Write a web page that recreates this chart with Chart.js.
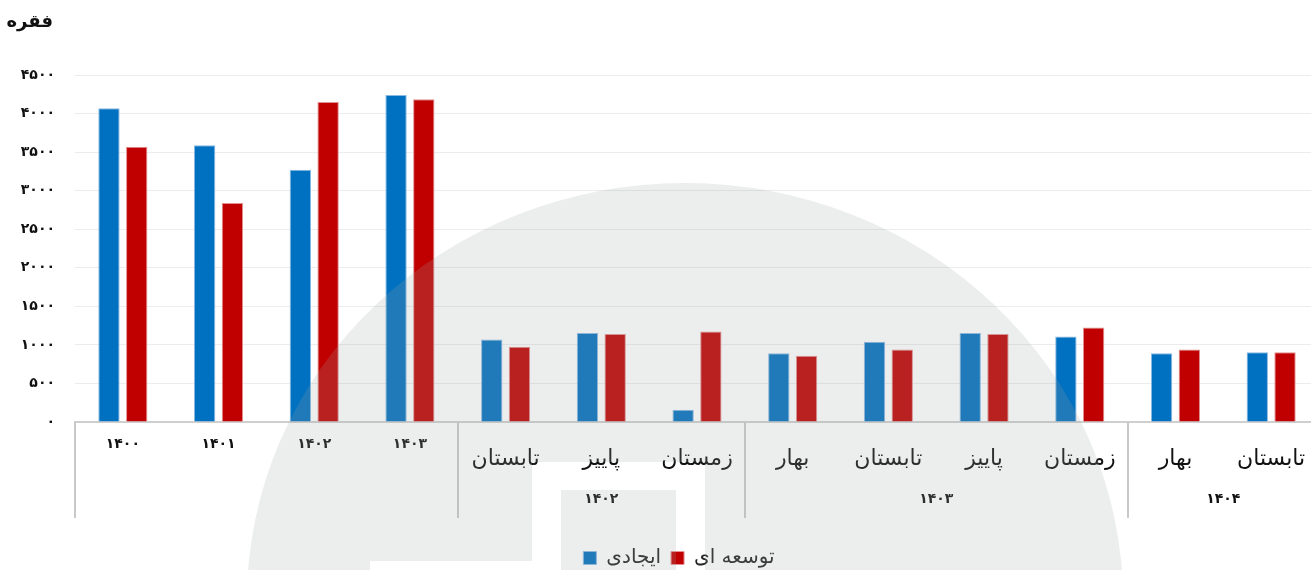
<!DOCTYPE html>
<html>
<head>
<meta charset="utf-8">
<script src="https://cdn.jsdelivr.net/npm/chart.js@4.4.1/dist/chart.umd.min.js"></script>
<style>
  html, body { margin: 0; padding: 0; background: #ffffff; overflow: hidden; }
  #wrap { position: relative; width: 1320px; height: 580px; }
</style>
</head>
<body>
<div id="wrap"><canvas id="chart"></canvas></div>
<script>
// Category labels (first row of the x axis)
const categories = ['۱۴۰۰', '۱۴۰۱', '۱۴۰۲', '۱۴۰۳', 'تابستان', 'پاییز', 'زمستان', 'بهار', 'تابستان', 'پاییز', 'زمستان', 'بهار', 'تابستان'];
// Second row of the x axis: year groups and how many categories each spans
const groupLabels = ['', '۱۴۰۲', '۱۴۰۳', '۱۴۰۴'];
const groupSizes = [4, 3, 4, 2];
// Number of cases per period
const creationValues  = [4070, 3590, 3270, 4240, 1070, 1155, 160, 890, 1040, 1155, 1110, 890, 905];
const expansionValues = [3570, 2840, 4150, 4185, 975, 1140, 1175, 860, 940, 1140, 1225, 940, 905];
const seriesNames = ['ایجادی', 'توسعه ای'];
const yTicks = [0, 500, 1000, 1500, 2000, 2500, 3000, 3500, 4000, 4500];
const yTitle = 'فقره';

const FONT = '"DejaVu Sans", sans-serif';
const faDigits = '۰۱۲۳۴۵۶۷۸۹';
const toFa = n => String(n).replace(/\d/g, d => faDigits[d]);

// Draws the y title, the grouped second row of the x axis and its dividers
const axisDecor = {
  id: 'axisDecor',
  afterLayout(chart) {
    // centre the legend a little to the right, under the plot
    if (chart.legend) {
      chart.legend.left += 39;
    }
  },
  afterDraw(chart) {
    const ctx = chart.ctx;
    const x = chart.scales.x;
    const y = chart.scales.y;
    ctx.save();
    // y axis title
    ctx.fillStyle = '#111';
    ctx.font = 'bold 18px ' + FONT;
    ctx.textAlign = 'right';
    ctx.textBaseline = 'middle';
    ctx.fillText(yTitle, y.right - 22, 22);

    // group dividers
    const top = x.top;
    const bottom = x.top + 96;
    const edgeAt = i => {
      if (i <= 0) return x.left;
      if (i >= categories.length) return x.right;
      return (x.getPixelForValue(i - 1) + x.getPixelForValue(i)) / 2;
    };
    ctx.strokeStyle = '#c9c9c9';
    ctx.lineWidth = 2;
    let start = 0;
    const edges = [0];
    groupSizes.forEach(s => { start += s; edges.push(start); });
    edges.forEach(i => {
      const px = Math.round(edgeAt(i));
      ctx.beginPath();
      ctx.moveTo(px, top);
      ctx.lineTo(px, bottom);
      ctx.stroke();
    });
    // group labels
    ctx.font = 'bold 14px ' + FONT;
    ctx.textAlign = 'center';
    ctx.fillStyle = '#111';
    for (let g = 0; g < groupLabels.length; g++) {
      if (!groupLabels[g]) continue;
      const cx = (edgeAt(edges[g]) + edgeAt(edges[g + 1])) / 2;
      ctx.fillText(groupLabels[g], cx, top + 77);
    }
    ctx.restore();
  }
};

// Translucent background emblem laid over the plot
const emblem = {
  id: 'emblem',
  afterDraw(chart) {
    const ctx = chart.ctx;
    ctx.save();
    ctx.beginPath();
    ctx.ellipse(685, 600, 438, 417, 0, 0, Math.PI * 2);
    ctx.rect(532, 462, 173, 140);
    ctx.rect(561, 490, 115, 112);
    ctx.rect(370, 561, 162, 41);
    ctx.fillStyle = 'rgba(160,165,165,0.2)';
    ctx.fill('evenodd');
    ctx.restore();
  }
};

new Chart(document.getElementById('chart'), {
  type: 'bar',
  data: {
    labels: categories,
    datasets: [
      {
        label: seriesNames[0],
        data: creationValues,
        backgroundColor: '#0070C0',
        borderColor: '#8ab9e2',
        borderWidth: 1,
        barPercentage: 0.77,
        categoryPercentage: 0.58
      },
      {
        label: seriesNames[1],
        data: expansionValues,
        backgroundColor: '#C00000',
        borderColor: '#e39090',
        borderWidth: 1,
        barPercentage: 0.77,
        categoryPercentage: 0.58
      }
    ]
  },
  options: {
    responsive: true,
    maintainAspectRatio: false,
    animation: false,
    layout: { padding: { top: 75, left: 0, right: 1, bottom: 2 } },
    plugins: {
      legend: {
        position: 'bottom',
        labels: {
          boxWidth: 13,
          boxHeight: 13,
          padding: 10,
          color: '#222',
          font: { family: FONT, size: 20 }
        }
      },
      tooltip: { enabled: false }
    },
    scales: {
      x: {
        grid: { display: false, drawTicks: false },
        border: { display: true, color: '#cfcfcf', width: 2 },
        ticks: {
          autoSkip: false,
          maxRotation: 0,
          padding: 14,
          color: '#111',
          font: ctx => ctx.index < 4
            ? { family: FONT, size: 14, weight: 'bold', lineHeight: 1.2 }
            : { family: FONT, size: 22, lineHeight: 2.1 }
        },
        afterFit: s => { s.height = 116; }
      },
      y: {
        min: 0,
        max: 4500,
        afterBuildTicks: s => { s.ticks = yTicks.map(v => ({ value: v })); },
        grid: { color: '#ececec', lineWidth: 1, drawTicks: false },
        border: { display: false },
        ticks: {
          padding: 20,
          color: '#111',
          font: { family: FONT, size: 14, weight: 'bold' },
          callback: v => toFa(v)
        },
        afterFit: s => { s.width = 75; }
      }
    }
  },
  plugins: [axisDecor, emblem]
});
</script>
</body>
</html>
